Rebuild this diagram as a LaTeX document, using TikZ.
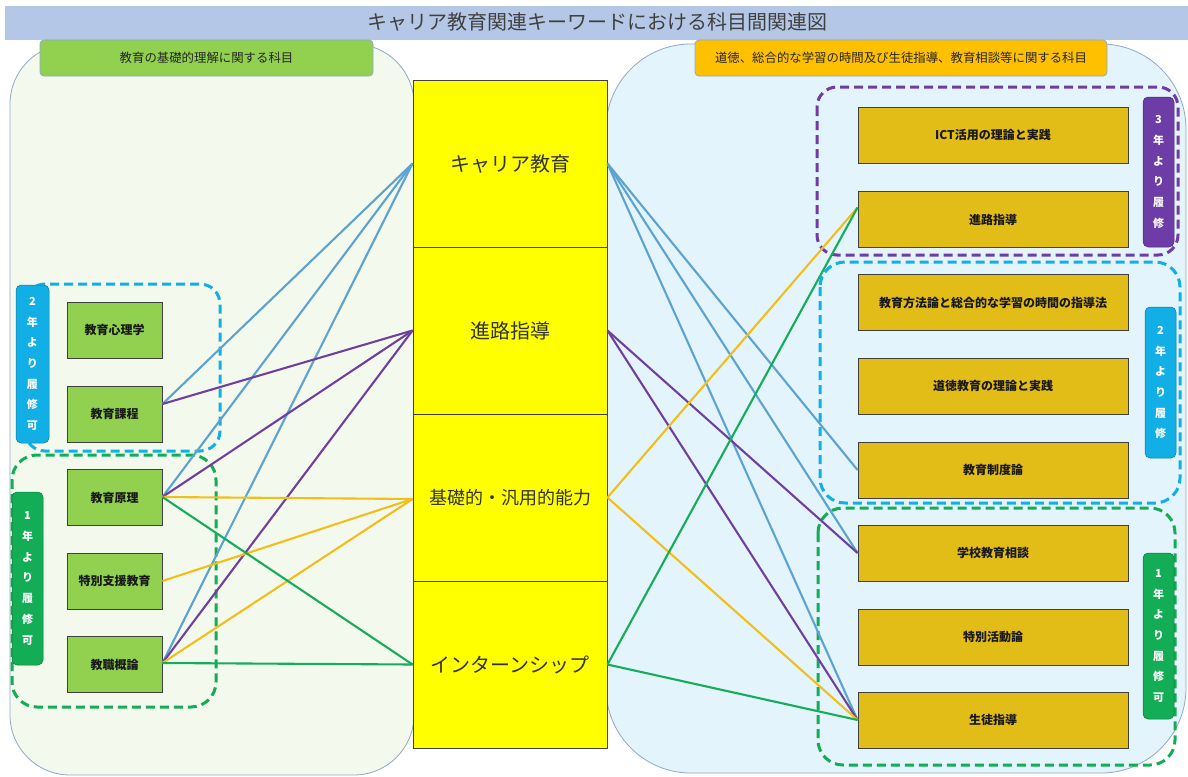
\documentclass[tikz,border=0pt]{standalone}
\usepackage{fontspec}
\setmainfont{Noto Sans CJK JP}
\usetikzlibrary{calc}
\definecolor{titlebg}{HTML}{B4C7E7}
\definecolor{titletx}{HTML}{404040}
\definecolor{leftbg}{HTML}{F4F9EE}
\definecolor{rightbg}{HTML}{E3F4FC}
\definecolor{panelline}{HTML}{8EA9C8}
\definecolor{hdrgreen}{HTML}{92D050}
\definecolor{hdrorange}{HTML}{FFC000}
\definecolor{boxgreen}{HTML}{92D050}
\definecolor{boxgold}{HTML}{E2BC17}
\definecolor{colyellow}{HTML}{FFFF00}
\definecolor{dcyan}{HTML}{12AEE6}
\definecolor{dgreen}{HTML}{12AD55}
\definecolor{dpurple}{HTML}{6E3CA6}
\definecolor{lblue}{HTML}{5BA3D0}
\definecolor{lpurple}{HTML}{7040A0}
\definecolor{lorange}{HTML}{F2BE1A}
\definecolor{lgreen}{HTML}{16AD5A}
\begin{document}
\begin{tikzpicture}[x=1pt,y=-1pt,
  hdrbox/.style={draw=panelline, line width=0.8pt, rounded corners=4pt, minimum height=36pt, inner sep=0pt, font=\fontsize{12.4}{14}\selectfont, text=black!85},
  lbox/.style={draw=black!75, line width=0.9pt, fill=boxgreen, minimum width=95pt, minimum height=56pt, inner sep=0pt, font=\fontsize{12}{14}\selectfont\bfseries, text=black!90},
  rbox/.style={draw=black!75, line width=0.9pt, fill=boxgold, minimum width=270pt, minimum height=56pt, inner sep=0pt, font=\fontsize{12}{14}\selectfont\bfseries, text=black!90},
  cell/.style={draw=black!75, line width=0.9pt, fill=colyellow, minimum width=194pt, minimum height=167pt, inner sep=0pt, text=black!80},
  yearlbl/.style={rounded corners=5pt, minimum width=31pt, inner sep=0pt, align=center, text=white, font=\fontsize{11}{20.7}\selectfont\bfseries},
  dashbox/.style={line width=3pt, dash pattern=on 9pt off 5pt},
  conn/.style={line width=2.1pt},
]
\useasboundingbox (0,0) rectangle (1188,776);
% title
\fill[titlebg] (5,6) rectangle (1188,40);
\node[text=titletx, font=\fontsize{20}{24}\selectfont] (title) at (597,22) {キャリア教育関連キーワードにおける科目間関連図};
% panels
\draw[draw=panelline, line width=0.8pt, fill=leftbg, rounded corners=60pt] (10,44) rectangle (414,775);
\draw[draw=panelline, line width=0.8pt, fill=rightbg, rounded corners=85pt] (606,44) rectangle (1186,773);
% headers
\node[hdrbox, fill=hdrgreen, minimum width=333pt] (lhdr) at (206.5,58) {教育の基礎的理解に関する科目};
\node[hdrbox, fill=hdrorange, minimum width=412pt] (rhdr) at (901,58) {道徳、総合的な学習の時間及び生徒指導、教育相談等に関する科目};
% dashed groups
\draw[dashbox, dcyan, rounded corners=20pt] (25,284) rectangle (220,451);
\draw[dashbox, dgreen, rounded corners=25pt] (12,455) rectangle (216,707);
\draw[dashbox, dpurple, rounded corners=20pt] (817,87) rectangle (1178,255);
\draw[dashbox, dcyan, rounded corners=25pt] (820,262) rectangle (1180,503);
\draw[dashbox, dgreen, rounded corners=25pt] (818,508) rectangle (1175,765);
% year labels
\node[yearlbl, fill=dcyan, draw=dcyan!70!black, line width=0.5pt, minimum width=33pt, minimum height=158pt] (ly2) at (32.5,364) {2\\年\\よ\\り\\履\\修\\可};
\node[yearlbl, fill=dgreen, draw=dgreen!70!black, line width=0.5pt, minimum height=173pt] (ly1) at (27.5,578.5) {1\\年\\よ\\り\\履\\修\\可};
\node[yearlbl, fill=dpurple, draw=dpurple!70!black, line width=0.5pt, minimum height=150pt] (ry3) at (1158.5,172) {3\\年\\よ\\り\\履\\修};
\node[yearlbl, fill=dcyan, draw=dcyan!70!black, line width=0.5pt, minimum height=151pt] (ry2) at (1160.5,382.5) {2\\年\\よ\\り\\履\\修};
\node[yearlbl, fill=dgreen, draw=dgreen!70!black, line width=0.5pt, minimum height=166pt] (ry1) at (1158.5,636) {1\\年\\よ\\り\\履\\修\\可};
% center column
\node[cell, font=\fontsize{20}{24}\selectfont] (c1) at (510,163.5) {キャリア教育};
\node[cell, font=\fontsize{20}{24}\selectfont] (c2) at (510,330.5) {進路指導};
\node[cell, font=\fontsize{18}{22}\selectfont] (c3) at (510,497.5) {基礎的・汎用的能力};
\node[cell, font=\fontsize{20}{24}\selectfont] (c4) at (510,664.5) {インターンシップ};
% left boxes
\node[lbox] (l1) at (114.5,330) {教育心理学};
\node[lbox] (l2) at (114.5,414) {教育課程};
\node[lbox] (l3) at (114.5,497.5) {教育原理};
\node[lbox] (l4) at (114.5,581) {特別支援教育};
\node[lbox] (l5) at (114.5,664.5) {教職概論};
% right boxes
\node[rbox] (r1) at (993,135) {ICT活用の理論と実践};
\node[rbox] (r2) at (993,219.5) {進路指導};
\node[rbox] (r3) at (993,302.5) {教育方法論と総合的な学習の時間の指導法};
\node[rbox] (r4) at (993,386) {道徳教育の理論と実践};
\node[rbox] (r5) at (993,470) {教育制度論};
\node[rbox] (r6) at (993,553) {学校教育相談};
\node[rbox] (r7) at (993,637) {特別活動論};
\node[rbox] (r8) at (993,720) {生徒指導};
% attachment points
\coordinate (l2a) at ($(l2.east)+(0,-10)$);
\coordinate (l3a) at ($(l3.east)+(0,-0.5)$);
\coordinate (l5a) at ($(l5.east)+(0,-1.5)$);
\coordinate (c3a) at ($(c3.west)+(0,1.5)$);
\coordinate (r2a) at ($(r2.west)+(0,-12)$);
% left connectors
\draw[conn, lblue] (l2a) -- (c1.west);
\draw[conn, lblue] (l3a) -- (c1.west);
\draw[conn, lblue] (l5a) -- (c1.west);
\draw[conn, lpurple] (l2a) -- (c2.west);
\draw[conn, lpurple] (l3a) -- (c2.west);
\draw[conn, lpurple] (l5a) -- (c2.west);
\draw[conn, lorange] (l3a) -- (c3a);
\draw[conn, lorange] (l4.east) -- (c3a);
\draw[conn, lorange] (l5a) -- (c3a);
\draw[conn, lgreen] (l3a) -- (c4.west);
\draw[conn, lgreen] (l5a) -- (c4.west);
% right connectors
\draw[conn, lblue] (c1.east) -- (r5.west);
\draw[conn, lblue] (c1.east) -- (r6.west);
\draw[conn, lblue] (c1.east) -- (r8.west);
\draw[conn, lpurple] (c2.east) -- (r6.west);
\draw[conn, lpurple] (c2.east) -- (r8.west);
\draw[conn, lorange] (c3.east) -- (r2a);
\draw[conn, lorange] (c3.east) -- (r8.west);
\draw[conn, lgreen] (c4.east) -- (r2a);
\draw[conn, lgreen] (c4.east) -- (r8.west);
\end{tikzpicture}
\end{document}
